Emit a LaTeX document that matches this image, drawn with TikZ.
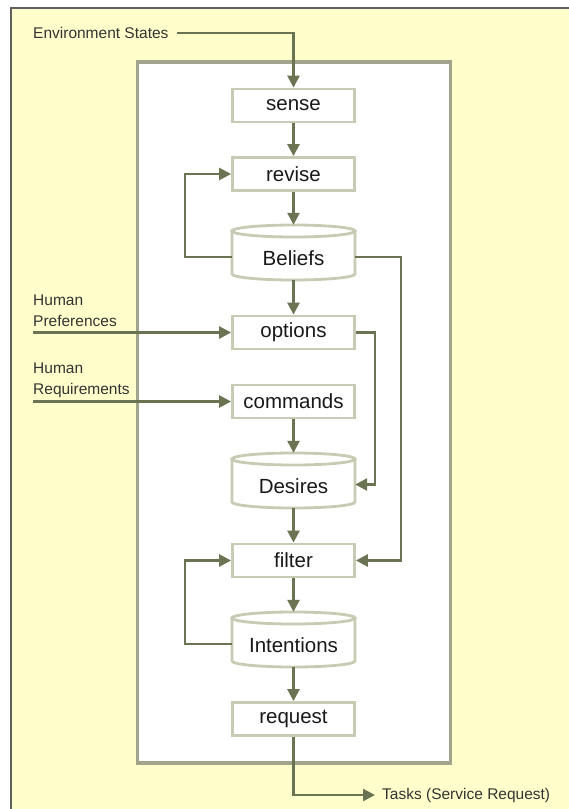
\documentclass[tikz,border=0pt]{standalone}
\usepackage{fontspec}
\setmainfont{Liberation Sans}
\usetikzlibrary{arrows.meta,calc}

\definecolor{bgyellow}{HTML}{FFFFCC}
\definecolor{flow}{HTML}{6B7452}
\definecolor{boxedge}{HTML}{C8CBB3}
\definecolor{paneledge}{HTML}{A2A58C}
\definecolor{frameline}{HTML}{606060}

\tikzset{
  stepbox/.style={draw=boxedge, line width=2.8pt, fill=white,
    minimum width=122pt, minimum height=33pt, inner sep=0pt,
    text=black!90, font=\fontsize{20.5}{24}\selectfont},
  store/.style={minimum width=123pt, minimum height=55pt, inner sep=0pt,
    text height=26pt, text depth=0pt,
    text=black!90, font=\fontsize{20.5}{24}\selectfont},
  drumedge/.style={draw=boxedge, line width=2.8pt, fill=white},
  flowline/.style={draw=flow, line width=2.5pt,
    -{Triangle[length=12pt,width=12pt]}},
  note/.style={font=\fontsize{15.5}{21}\selectfont, text=black!80,
    align=left, inner sep=0pt},
}

% cylinder-shaped data store: name, centre y, label
\newcommand{\drum}[3]{%
  \path[drumedge] (232,#2-21.5) -- (232,#2+21.5)
     arc[start angle=180,end angle=0,x radius=61.5,y radius=6]
     -- (355,#2-21.5) -- cycle;
  \path[drumedge] (293.5,#2-21.5) ellipse[x radius=61.5,y radius=6];
  \node[store] (#1) at (293.5,#2) {#3};
}

\begin{document}
\begin{tikzpicture}[x=1pt,y=-1pt]
  \useasboundingbox (0,0) rectangle (569,809);

  % outer sheet and inner panel
  \fill[bgyellow] (11,8) rectangle (569,809);
  \draw[frameline, line width=1.5pt] (11,809) -- (11,8) -- (569,8);
  \path[draw=paneledge, line width=3.5pt, fill=white] (137.5,62) rectangle (450.5,763);

  % processing steps and stores
  \node[stepbox] (sense)    at (293.5,105.5) {sense};
  \node[stepbox] (revise)   at (293.5,174)   {revise};
  \drum{beliefs}{252.5}{Beliefs}
  \node[stepbox] (options)  at (293.5,332.5) {options};
  \node[stepbox] (commands) at (293.5,401.5) {commands};
  \drum{desires}{480.5}{Desires}
  \node[stepbox] (filter)   at (293.5,560.5) {filter};
  \drum{intentions}{639.5}{Intentions}
  \node[stepbox] (request)  at (293.5,719)   {request};

  % external inputs and output
  \node[note, anchor=west] (env)   at (33,33)    {Environment States};
  \node[note, anchor=west] (hpref) at (33,310.5) {Human\\Preferences};
  \node[note, anchor=west] (hreq)  at (33,380.5) {Human\\Requirements};
  \node[note, anchor=west] (tasks) at (382,795)  {Tasks (Service Request)};
  \coordinate (hprefin) at (33,332.5);
  \coordinate (hreqin)  at (33,401.5);

  % main flow
  \draw[flowline] ([xshift=8pt]env.east) -| (sense.north);
  \draw[flowline] (sense) -- (revise);
  \draw[flowline] (revise) -- (beliefs);
  \draw[flowline] (beliefs) -- (options);
  \draw[flowline] (commands) -- (desires);
  \draw[flowline] (desires) -- (filter);
  \draw[flowline] (filter) -- (intentions);
  \draw[flowline] (intentions) -- (request);
  \draw[flowline] (request.south) |- ([xshift=-7pt]tasks.west);

  % human inputs
  \draw[flowline] (hprefin) -- (options.west);
  \draw[flowline] (hreqin) -- (commands.west);

  % feedback and bypass links
  \draw[flowline] ([yshift=-4.5pt]beliefs.west) -- ++(-47,0) |- (revise.west);
  \draw[flowline] ([yshift=-4.5pt]beliefs.east) -| ([xshift=45pt]filter.east) -- (filter.east);
  \draw[flowline] (options.east) -| ([xshift=20pt,yshift=-4pt]desires.east) -- ([yshift=-4pt]desires.east);
  \draw[flowline] ([yshift=-4.5pt]intentions.west) -- ++(-47,0) |- (filter.west);
\end{tikzpicture}
\end{document}
